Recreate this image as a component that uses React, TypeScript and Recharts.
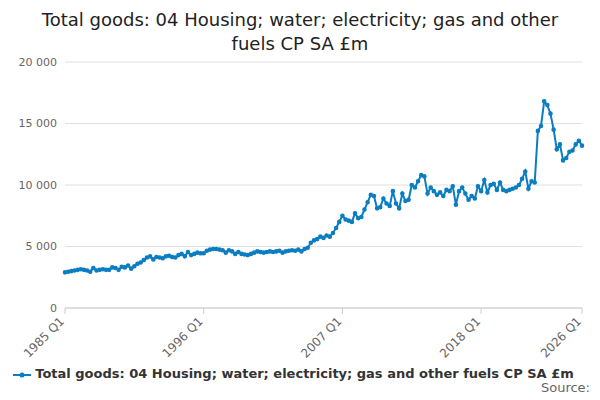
import { LineChart, Line, XAxis, YAxis, CartesianGrid, Legend } from 'recharts';

const START_YEAR = 1985;
const VALUES = [
  2900, 2950, 3000, 3050, 3100, 3150, 3100, 3050, 2950, 3250, 3050,
  3100, 3150, 3100, 3100, 3300, 3250, 3100, 3350, 3300, 3450, 3200,
  3400, 3600, 3700, 3900, 4100, 4200, 3950, 4150, 4100, 4050, 4200,
  4250, 4150, 4100, 4300, 4400, 4200, 4550, 4300, 4400, 4500, 4450,
  4450, 4650, 4750, 4800, 4800, 4750, 4700, 4500, 4700, 4600, 4400,
  4550, 4400, 4350, 4300, 4400, 4500, 4600, 4550, 4500, 4550, 4600,
  4550, 4600, 4650, 4500, 4600, 4650, 4700, 4650, 4750, 4600,
  4800, 4900, 5300, 5500, 5600, 5800, 5700, 5900, 5800, 6100, 6500, 7000,
  7500, 7200, 7100, 7000, 7700, 7300, 7400, 8000, 8600, 9200, 9100, 8100,
  8200, 8900, 8500, 8300, 9500, 8500, 8100, 9300, 8700, 8800, 10000,
  9800, 10300, 10800, 10700, 9300, 9800, 9500, 9200, 9400, 9100,
  9600, 9500, 9900, 8400, 9500, 9800, 9300, 8800, 9100, 8900, 9900,
  9500, 10400, 9400, 10000, 10100, 9600, 10200, 9600, 9500, 9600, 9700, 9800,
  10000, 10500, 11100, 9700, 10300, 10200,
  14400, 14800, 16800,
  16500, 15800, 14500, 12900, 13300, 12000, 12200, 12700, 12800, 13300, 13600, 13200,
];
const SERIES_NAME = 'Total goods: 04 Housing; water; electricity; gas and other fuels CP SA £m';
const TICK_LABELS = ['1985 Q1', '1996 Q1', '2007 Q1', '2018 Q1', '2026 Q1'];
const Y_TICKS = [0, 5000, 10000, 15000, 20000];

const data = VALUES.map((v, i) => ({
  period: `${START_YEAR + Math.floor(i / 4)} Q${(i % 4) + 1}`,
  value: v,
}));

const BLUE = '#0b7dc1';

const fmt = (v: number) => (v >= 1000 ? `${Math.floor(v / 1000)} ${String(v % 1000).padStart(3, '0')}` : `${v}`);

const AngledTick = (props: any) => {
  const { x, y, payload } = props;
  return (
    <text x={x} y={y + 6} transform={`rotate(-45 ${x} ${y + 6})`} textAnchor="end" fontSize={12} fill="#666">
      {payload.value}
    </text>
  );
};

const LegendIcon = () => (
  <svg width={18} height={10} style={{ verticalAlign: 'middle', marginRight: 4 }}>
    <line x1={0} y1={5} x2={18} y2={5} stroke={BLUE} strokeWidth={2} />
    <circle cx={9} cy={5} r={2.5} fill={BLUE} />
  </svg>
);

export default function App() {
  return (
    <div style={{ width: 600, height: 400, position: 'relative', fontFamily: 'DejaVu Sans, sans-serif', margin: -8 }}>
      <div style={{ position: 'absolute', top: 8, width: 600, textAlign: 'center', fontSize: 18, color: '#222', lineHeight: '24px' }}>
        Total goods: 04 Housing; water; electricity; gas and other
        <br />
        fuels CP SA £m
      </div>
      <LineChart width={600} height={390} data={data} margin={{ top: 62, right: 18, left: 5, bottom: 0 }}>
        <CartesianGrid vertical={false} stroke="#e0e0e0" />
        <XAxis
          dataKey="period"
          ticks={TICK_LABELS}
          interval={0}
          tick={<AngledTick />}
          tickLine={{ stroke: '#ccc' }}
          axisLine={{ stroke: '#ccc' }}
          height={58}
        />
        <YAxis
          domain={[0, 20000]}
          ticks={Y_TICKS}
          tickFormatter={fmt}
          axisLine={false}
          tickLine={false}
          tick={{ fontSize: 11, fill: '#666' }}
          width={60}
        />
        <Legend
          verticalAlign="bottom"
          height={24}
          content={() => (
            <div style={{ textAlign: 'center', fontSize: 13, fontWeight: 'bold', color: '#333' }}>
              <LegendIcon />
              {SERIES_NAME}
            </div>
          )}
        />
        <Line
          name={SERIES_NAME}
          dataKey="value"
          stroke={BLUE}
          strokeWidth={2}
          dot={{ r: 1.3, fill: BLUE, stroke: BLUE }}
          isAnimationActive={false}
        />
      </LineChart>
      <div style={{ position: 'absolute', right: 10, top: 380, fontSize: 13, color: '#666' }}>Source:</div>
    </div>
  );
}
